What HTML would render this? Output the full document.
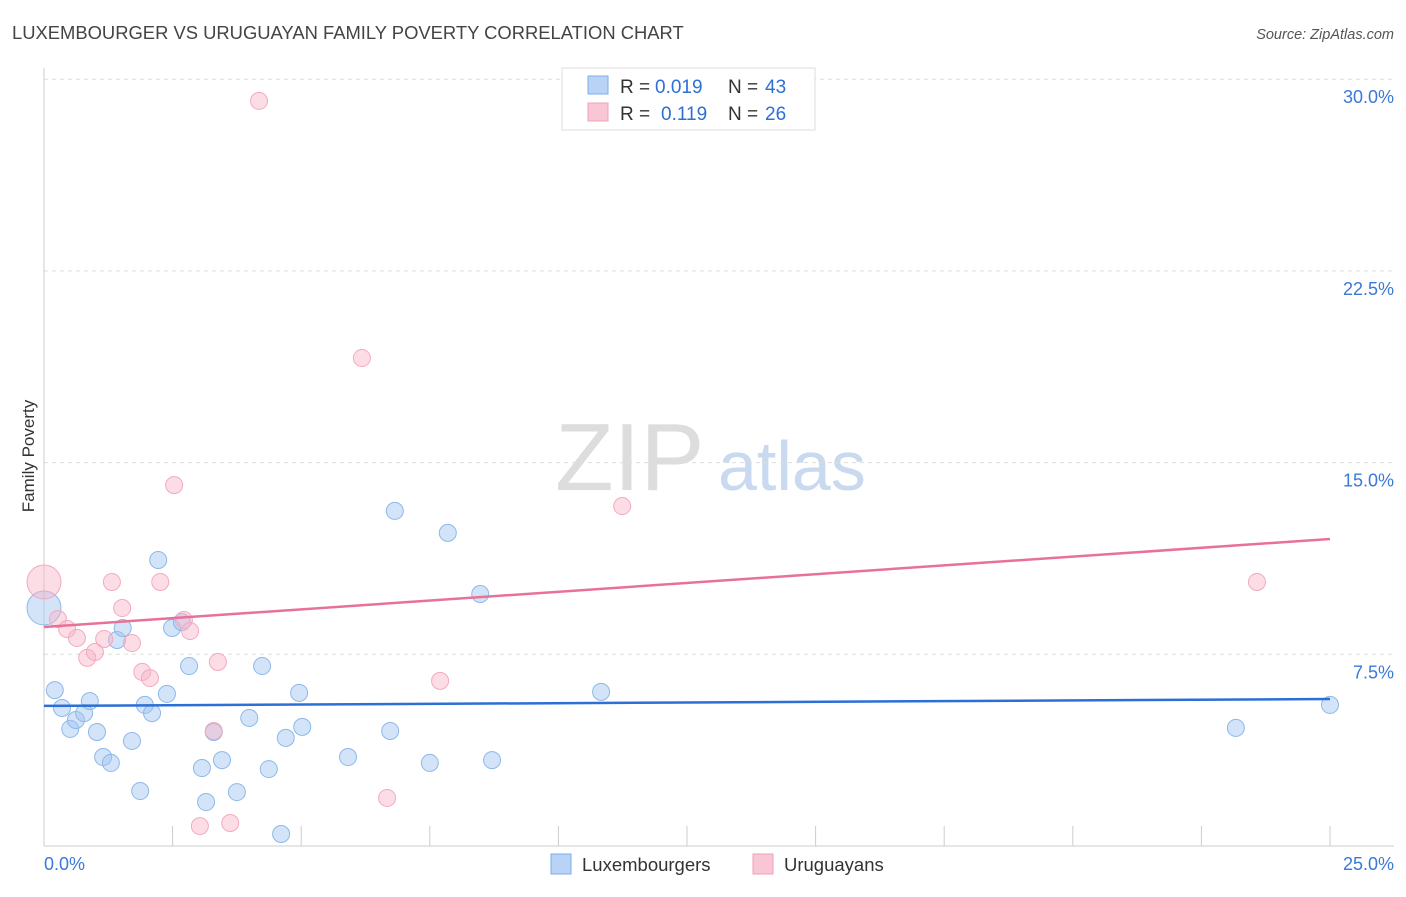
<!DOCTYPE html>
<html><head><meta charset="utf-8"><style>
body{margin:0;background:#fff;font-family:"Liberation Sans",sans-serif;}
svg text{font-family:"Liberation Sans",sans-serif;}
</style></head><body>
<svg id="chart" width="1406" height="892">
<text x="12" y="39" font-size="18.4" fill="#444">LUXEMBOURGER VS URUGUAYAN FAMILY POVERTY CORRELATION CHART</text>
<text x="1394" y="39" font-size="14.5" fill="#555" text-anchor="end" font-style="italic">Source: ZipAtlas.com</text>
<text x="555" y="490" font-size="96" fill="#ddd" font-family="Liberation Serif">ZIP</text>
<text x="718" y="490" font-size="70" fill="#c8d9f0">atlas</text>
<text transform="translate(34,456) rotate(-90)" font-size="17" fill="#333" text-anchor="middle">Family Poverty</text>
<g id="grid"></g><g id="marks"></g>
<g>
<rect x="562" y="68" width="253" height="62" fill="#fff" stroke="#ddd"/>
<rect x="588" y="76" width="20" height="18" fill="#b8d3f5" stroke="#7aaee8"/>
<rect x="588" y="103" width="20" height="18" fill="#f9c6d5" stroke="#f0a0b8"/>
<text x="620" y="93" font-size="19" fill="#333">R =</text>
<text x="655" y="93" font-size="19" fill="#2c6fd6">0.019</text>
<text x="728" y="93" font-size="19" fill="#333">N =</text>
<text x="765" y="93" font-size="19" fill="#2c6fd6">43</text>
<text x="620" y="120" font-size="19" fill="#333">R =</text>
<text x="661" y="120" font-size="19" fill="#2c6fd6">0.119</text>
<text x="728" y="120" font-size="19" fill="#333">N =</text>
<text x="765" y="120" font-size="19" fill="#2c6fd6">26</text>
</g>
<g>
<rect x="551" y="854" width="20" height="20" fill="#b8d3f5" stroke="#7aaee8"/>
<text x="582" y="871" font-size="18.5" fill="#333">Luxembourgers</text>
<rect x="753" y="854" width="20" height="20" fill="#f9c6d5" stroke="#f0a0b8"/>
<text x="784" y="871" font-size="18.5" fill="#333">Uruguayans</text>
</g>
</svg>
<script>
const yTicks=[7.5,15,22.5,30];
const yTickLabels=["7.5%","15.0%","22.5%","30.0%"];
const blueX=[0.21,0.35,0.51,0.62,0.78,0.89,1.03,1.15,1.30,1.42,1.53,1.71,1.87,1.96,2.1,2.22,2.39,2.49,2.68,2.82,3.07,3.15,3.30,3.46,3.75,3.99,4.24,4.37,4.61,4.70,4.96,5.02,5.91,6.73,6.82,7.50,7.85,8.48,8.71,10.83,23.17,25.0,0];
const blueY=[6.10,5.40,4.58,4.93,5.20,5.67,4.46,3.48,3.25,8.06,8.53,4.11,2.15,5.52,5.20,11.19,5.95,8.53,8.76,7.04,3.05,1.72,4.46,3.36,2.11,5.01,7.04,3.01,0.47,4.23,5.99,4.66,3.48,4.50,13.11,3.25,12.25,9.86,3.36,6.03,4.62,5.52,9.31];
const pinkX=[0,0.27,0.45,0.64,0.84,0.99,1.17,1.32,1.52,1.71,1.91,2.06,2.26,2.53,2.72,2.84,3.03,3.30,3.38,3.62,4.18,6.18,6.67,7.70,11.24,23.58];
const pinkY=[10.33,8.88,8.49,8.14,7.36,7.59,8.10,10.33,9.31,7.94,6.81,6.57,10.33,14.12,8.84,8.41,0.78,4.50,7.20,0.90,29.15,19.09,1.88,6.46,13.30,10.33];
const blueTrend=[5.48,5.75];
const pinkTrend=[8.57,12.01];
const NS="http://www.w3.org/2000/svg";
const xs=v=>44+v*51.44, ys=v=>846-v*25.56;
function mk(t,a,p){const e=document.createElementNS(NS,t);for(const k in a)e.setAttribute(k,a[k]);p.appendChild(e);return e;}
const g=document.getElementById('grid'),m=document.getElementById('marks');
yTicks.forEach((t,i)=>{
 const l=mk('line',{x1:44,x2:1394,y1:ys(t),y2:ys(t),stroke:'#ddd','stroke-dasharray':'4,4'},g);
 
 
 const tx=mk('text',{x:1394,y:ys(t)+24,'font-size':18,fill:'#3b78d8','text-anchor':'end'},g);
 tx.textContent=yTickLabels[i];
 
 
});
const ax=mk('line',{x1:44,x2:44,y1:68,y2:846,stroke:'#ccc'},g);


const bx=mk('line',{x1:44,x2:1394,y1:846,y2:846,stroke:'#ccc'},g);


for(let i=1;i<=10;i++){const t=mk('line',{x1:xs(i*2.5),x2:xs(i*2.5),y1:826,y2:846,stroke:'#ccc'},g);
 
 }
[["0.0%",44,"start"],["25.0%",1394,"end"]].forEach(d=>{const t=mk('text',{x:d[1],y:870,'font-size':18,fill:'#3b78d8','text-anchor':d[2]},g);t.textContent=d[0];
 
 });
function pts(X,Y,fill,stroke,name){X.forEach((x,i)=>{const big=(x===0);
 const c=mk('circle',{cx:xs(x),cy:ys(Y[i]),r:big?17:8.5,fill:fill,stroke:stroke,'stroke-width':1},m);
 
 });}
pts(blueX,blueY,'rgba(160,196,240,0.45)','#8db8ea','luxembourger-point');
pts(pinkX,pinkY,'rgba(248,180,200,0.45)','#f2aac0','uruguayan-point');
const bl=mk('line',{x1:xs(0),x2:xs(25),y1:ys(blueTrend[0]),y2:ys(blueTrend[1]),stroke:'#2c6fd6','stroke-width':2.5},m);


const pl=mk('line',{x1:xs(0),x2:xs(25),y1:ys(pinkTrend[0]),y2:ys(pinkTrend[1]),stroke:'#e8719a','stroke-width':2.5},m);


</script>
</body></html>
